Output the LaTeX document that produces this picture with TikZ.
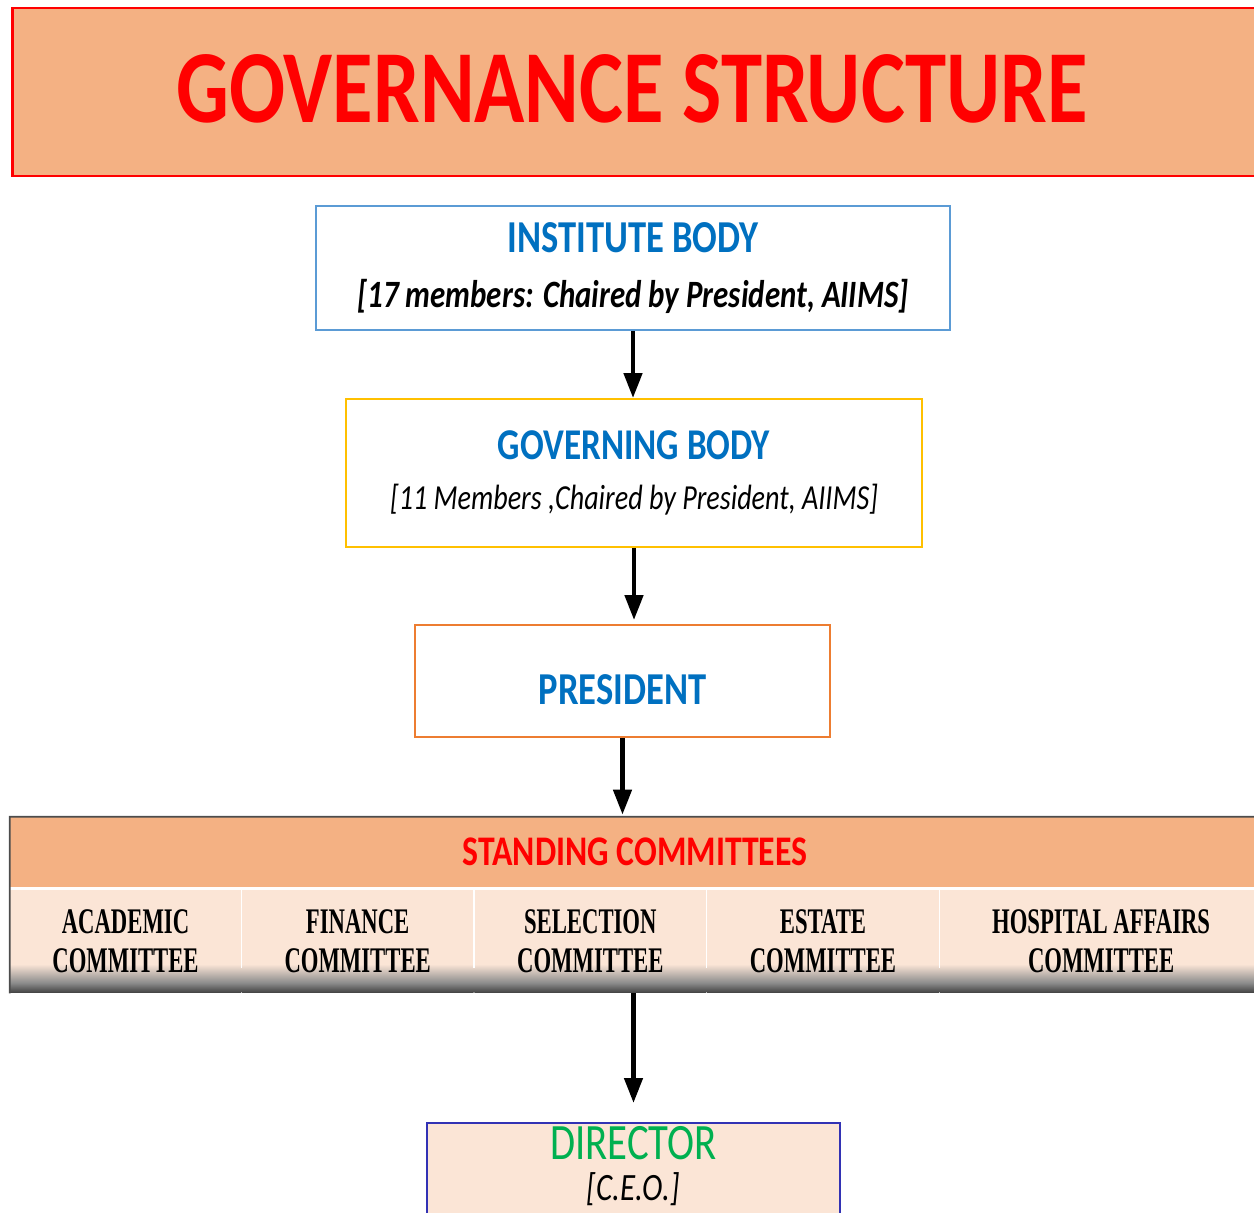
\documentclass[tikz,border=0pt]{standalone}
\usepackage{fontspec}
\setmainfont{Carlito}[FakeStretch=0.8]
\newfontfamily\comfont{Liberation Serif}[FakeStretch=0.63]
\usetikzlibrary{positioning,arrows.meta}
\definecolor{peach}{HTML}{F4B183}
\definecolor{peachlt}{HTML}{FBE5D6}
\definecolor{instblue}{HTML}{5B9BD5}
\definecolor{txtblue}{HTML}{0070C0}
\definecolor{govgold}{HTML}{FFC000}
\definecolor{presorange}{HTML}{ED7D31}
\definecolor{dirblue}{HTML}{3232B4}
\definecolor{dirgreen}{HTML}{00B050}
\pgfdeclareverticalshading{cellshade}{100bp}{color(0bp)=(black!75); color(25bp)=(black!75); color(30bp)=(black!45); color(39bp)=(peachlt); color(100bp)=(peachlt)}
\tikzset{>={Triangle[length=0.5cm,width=0.36cm]}}
\tikzset{box/.style={draw, line width=1.1pt, fill=white, align=center, inner sep=0pt}}
\tikzset{cell/.style={shading=cellshade, minimum height=2.06cm, inner sep=0pt, align=center,
    font=\comfont\bfseries\fontsize{20.5}{22}\selectfont}}
\tikzset{link/.style={->, line width=2.6pt}}
\def\blue#1{\textcolor{txtblue}{#1}}

\begin{document}
\begin{tikzpicture}[x=0.02cm, y=-0.02cm]
  \useasboundingbox (0,0) rectangle (1254,1213);

  \node[box, draw=red, fill=peach, line width=1.6pt, minimum width=25.16cm, minimum height=3.36cm] (titlebox) at (641,92) {};
  \node[text=red, font=\fontsize{59}{60}\selectfont\bfseries, xshift=-0.18cm, yshift=0.06cm] (title) at (titlebox.center) {GOVERNANCE STRUCTURE};

  \node[box, draw=instblue, minimum width=12.68cm, minimum height=2.48cm,
        font=\fontsize{26}{32}\selectfont] (inst) at (633,268)
        {\blue{\bfseries INSTITUTE BODY}\\[-1pt]{\fontsize{22}{32}\selectfont\bfseries\itshape [17 members: Chaired by President, AIIMS]}};
  \node[box, draw=govgold, minimum width=11.52cm, minimum height=2.96cm,
        font=\fontsize{25}{30}\selectfont] (gov) at (634,473)
        {\blue{\bfseries GOVERNING BODY}\\[-2pt]{\fontsize{20}{30}\selectfont\itshape [11 Members ,Chaired by President, AIIMS]}};
  \node[box, draw=presorange, minimum width=8.3cm, minimum height=2.24cm, text height=27pt,
        font=\fontsize{26}{30}\selectfont\bfseries, text=txtblue] (pres) at (622.5,681) {PRESIDENT};

  % standing committees
  \node[fill=peach, minimum width=25cm, minimum height=1.4cm, inner sep=0pt,
        text=red, font=\fontsize{24}{30}\selectfont\bfseries] (head) at (635,852) {STANDING COMMITTEES};
  \node[cell, minimum width=4.62cm] (acad) at (125.5,941.5) {ACADEMIC\\COMMITTEE};
  \node[cell, minimum width=4.64cm, right=0pt of acad] (fin) {FINANCE\\COMMITTEE};
  \node[cell, minimum width=4.64cm, right=0pt of fin] (sel) {SELECTION\\COMMITTEE};
  \node[cell, minimum width=4.64cm, right=0pt of sel] (est) {ESTATE\\COMMITTEE};
  \node[cell, minimum width=6.46cm, right=0pt of est] (hosp) {HOSPITAL AFFAIRS\\COMMITTEE};
  \foreach \a/\b in {acad/fin, fin/sel, sel/est, est/hosp}
    \draw[white, line width=0.6pt] (\a.north east) -- ([yshift=0.5cm]\a.south east);
  \draw[black!70, line width=1pt] (head.north east) -- (head.north west) -- (acad.south west);

  \node[box, draw=dirblue, fill=peachlt, minimum width=8.26cm, minimum height=2.4cm, anchor=north] (dir) at (633.5,1122) {};
  \node[anchor=north, align=center, font=\fontsize{22}{25}\selectfont, yshift=0.03cm] (dirtext) at (dir.north)
        {\textcolor{dirgreen}{\fontsize{29}{30}\selectfont DIRECTOR}\\[-2pt]{\itshape [C.E.O.]}};

  \draw[link] (inst.south) -- (inst.south |- gov.north);
  \draw[link, shorten >=0.08cm] (gov.south) -- (gov.south |- pres.north);
  \draw[link, shorten >=0.04cm] (pres.south) -- (pres.south |- head.north);
  \draw[link, shorten >=0.38cm] (dir.north |- sel.south) -- (dir.north);
\end{tikzpicture}
\end{document}
